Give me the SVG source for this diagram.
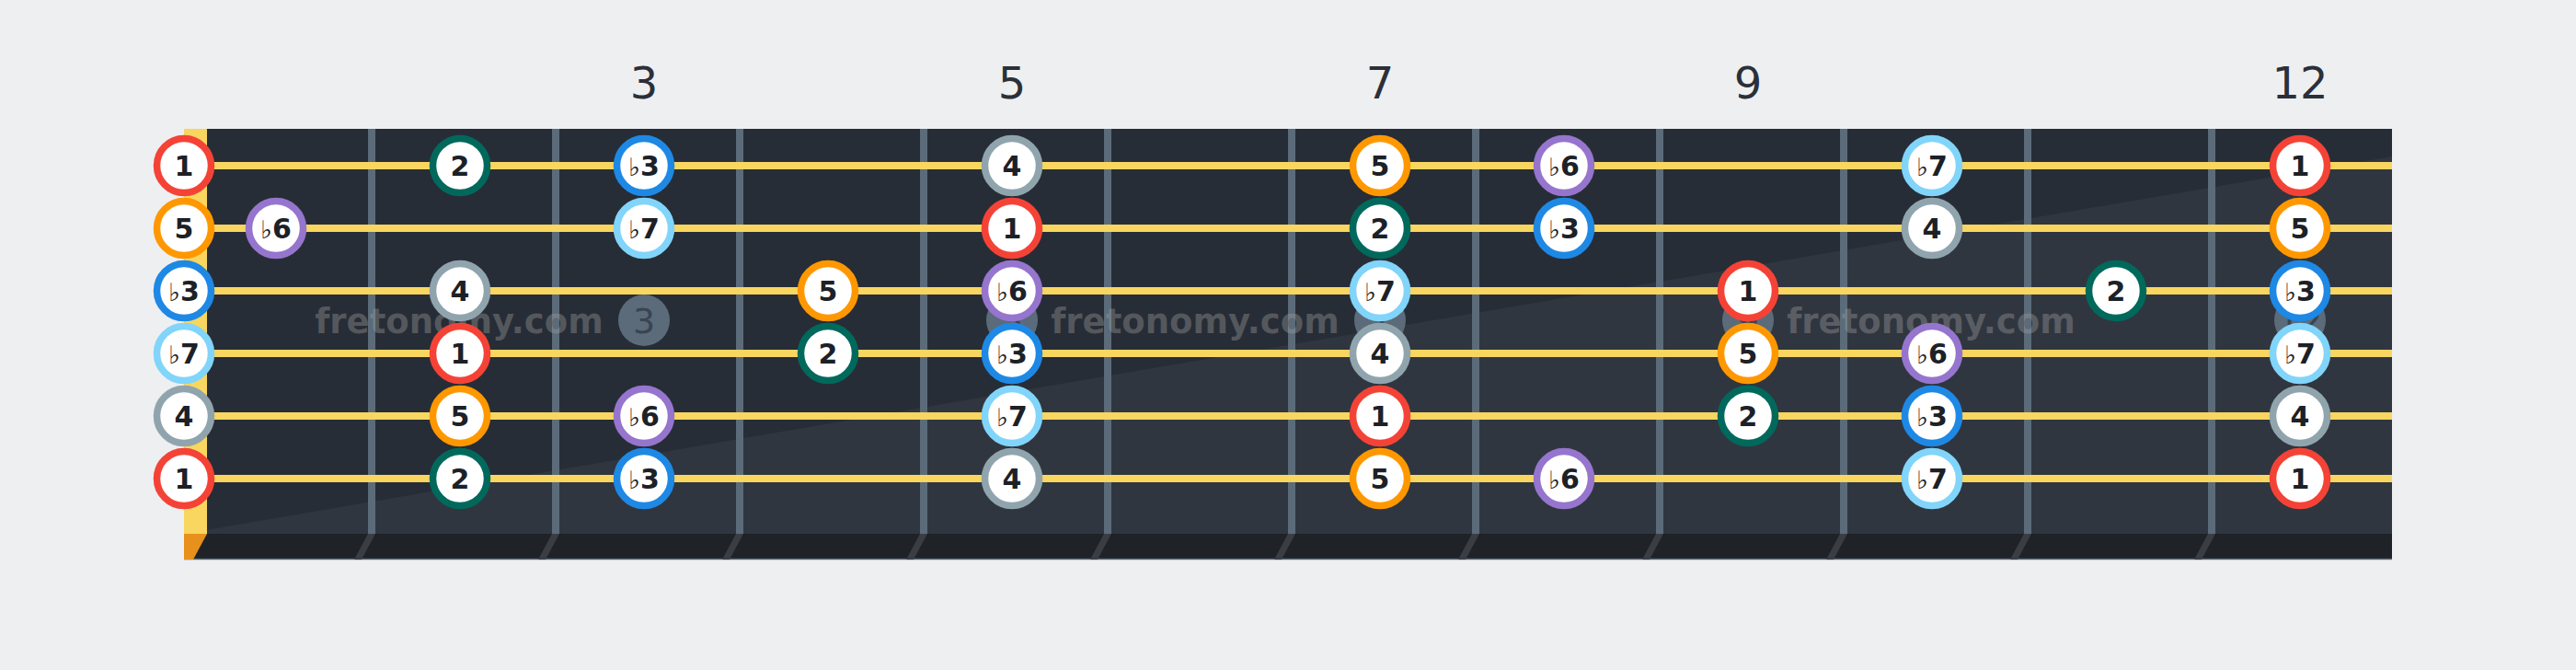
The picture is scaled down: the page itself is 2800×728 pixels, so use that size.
<svg xmlns="http://www.w3.org/2000/svg" width="2800" height="728" viewBox="0 0 2800 728">
<style>
.lbl{font-family:"DejaVu Sans","Liberation Sans",sans-serif;font-size:48px;fill:#2b3038;text-anchor:middle}
.mk{fill:#5b6b7a}
.mkt{font-family:"DejaVu Sans","Liberation Sans",sans-serif;font-size:38px;fill:#3a4450;text-anchor:middle}
.wm{font-family:"DejaVu Sans","Liberation Sans",sans-serif;font-size:37px;font-weight:bold;fill:#a0a0a0;fill-opacity:0.38;text-anchor:middle}
.fret{fill:#5b6b7a}
.fend{fill:#3a3e44}
.str{stroke:#f8d660;stroke-width:8}
.note circle{fill:#ffffff;stroke-width:7.5}
.note text{font-family:"DejaVu Sans","Liberation Sans",sans-serif;font-size:30px;font-weight:bold;fill:#1c2127;text-anchor:middle}
.note .fl{font-weight:normal;font-size:27px}
.i1 circle{stroke:#f44336}
.i2 circle{stroke:#00695c}
.i3 circle{stroke:#1e88e5}
.i4 circle{stroke:#90a4ae}
.i5 circle{stroke:#ff9800}
.i6 circle{stroke:#9575cd}
.i7 circle{stroke:#81d4fa}
</style>
<rect width="2800" height="728" fill="#eeeff1"/>
<g id="fret-labels">
<text class="lbl" x="700" y="107">3</text>
<text class="lbl" x="1100" y="107">5</text>
<text class="lbl" x="1500" y="107">7</text>
<text class="lbl" x="1900" y="107">9</text>
<text class="lbl" x="2500" y="107">12</text>
</g>
<g id="fretboard">
<rect x="200" y="140" width="2400" height="440" fill="#272d36"/>
<polygon points="200,580 2600,170 2600,580" fill="#30363f"/>
<rect x="200" y="580" width="2400" height="28" fill="#1f2328"/>
<line x1="200" y1="607.5" x2="2600" y2="607.5" stroke="#5b6b7a" stroke-width="1.5"/>
<polygon points="200,580 225,580 210,608 200,608" fill="#e8901c"/>
<rect x="200" y="140" width="25" height="440" fill="#f8d660"/>
</g>
<g id="frets">
<rect class="fret" x="400" y="140" width="8" height="440"/>
<rect class="fret" x="600" y="140" width="8" height="440"/>
<rect class="fret" x="800" y="140" width="8" height="440"/>
<rect class="fret" x="1000" y="140" width="8" height="440"/>
<rect class="fret" x="1200" y="140" width="8" height="440"/>
<rect class="fret" x="1400" y="140" width="8" height="440"/>
<rect class="fret" x="1600" y="140" width="8" height="440"/>
<rect class="fret" x="1800" y="140" width="8" height="440"/>
<rect class="fret" x="2000" y="140" width="8" height="440"/>
<rect class="fret" x="2200" y="140" width="8" height="440"/>
<rect class="fret" x="2400" y="140" width="8" height="440"/>
<polygon class="fend" points="400,580 408,580 393,608 385,608"/>
<polygon class="fend" points="600,580 608,580 593,608 585,608"/>
<polygon class="fend" points="800,580 808,580 793,608 785,608"/>
<polygon class="fend" points="1000,580 1008,580 993,608 985,608"/>
<polygon class="fend" points="1200,580 1208,580 1193,608 1185,608"/>
<polygon class="fend" points="1400,580 1408,580 1393,608 1385,608"/>
<polygon class="fend" points="1600,580 1608,580 1593,608 1585,608"/>
<polygon class="fend" points="1800,580 1808,580 1793,608 1785,608"/>
<polygon class="fend" points="2000,580 2008,580 1993,608 1985,608"/>
<polygon class="fend" points="2200,580 2208,580 2193,608 2185,608"/>
<polygon class="fend" points="2400,580 2408,580 2393,608 2385,608"/>
</g>
<g id="markers">
<circle class="mk" cx="700" cy="348" r="28"/><text class="mkt" x="700" y="362">3</text>
<circle class="mk" cx="1100" cy="348" r="28"/><text class="mkt" x="1100" y="362">5</text>
<circle class="mk" cx="1500" cy="348" r="28"/><text class="mkt" x="1500" y="362">7</text>
<circle class="mk" cx="1900" cy="348" r="28"/><text class="mkt" x="1900" y="362">9</text>
<circle class="mk" cx="2500" cy="348" r="28"/><text class="mkt" x="2500" y="362">12</text>
</g>
<g id="watermarks">
<text class="wm" x="499" y="362">fretonomy.com</text>
<text class="wm" x="1299" y="362">fretonomy.com</text>
<text class="wm" x="2099" y="362">fretonomy.com</text>
</g>
<g id="strings">
<line class="str" x1="200" y1="180" x2="2600" y2="180"/>
<line class="str" x1="200" y1="248" x2="2600" y2="248"/>
<line class="str" x1="200" y1="316" x2="2600" y2="316"/>
<line class="str" x1="200" y1="384" x2="2600" y2="384"/>
<line class="str" x1="200" y1="452" x2="2600" y2="452"/>
<line class="str" x1="200" y1="520" x2="2600" y2="520"/>
</g>
<g id="notes">
<g id="s1f0" class="note i1" transform="translate(200,180)"><circle r="29.5"/><text y="11">1</text></g>
<g id="s1f2" class="note i2" transform="translate(500,180)"><circle r="29.5"/><text y="11">2</text></g>
<g id="s1f3" class="note i3" transform="translate(700,180)"><circle r="29.5"/><text y="11"><tspan class="fl">♭</tspan>3</text></g>
<g id="s1f5" class="note i4" transform="translate(1100,180)"><circle r="29.5"/><text y="11">4</text></g>
<g id="s1f7" class="note i5" transform="translate(1500,180)"><circle r="29.5"/><text y="11">5</text></g>
<g id="s1f8" class="note i6" transform="translate(1700,180)"><circle r="29.5"/><text y="11"><tspan class="fl">♭</tspan>6</text></g>
<g id="s1f10" class="note i7" transform="translate(2100,180)"><circle r="29.5"/><text y="11"><tspan class="fl">♭</tspan>7</text></g>
<g id="s1f12" class="note i1" transform="translate(2500,180)"><circle r="29.5"/><text y="11">1</text></g>

<g id="s2f0" class="note i5" transform="translate(200,248)"><circle r="29.5"/><text y="11">5</text></g>
<g id="s2f1" class="note i6" transform="translate(300,248)"><circle r="29.5"/><text y="11"><tspan class="fl">♭</tspan>6</text></g>
<g id="s2f3" class="note i7" transform="translate(700,248)"><circle r="29.5"/><text y="11"><tspan class="fl">♭</tspan>7</text></g>
<g id="s2f5" class="note i1" transform="translate(1100,248)"><circle r="29.5"/><text y="11">1</text></g>
<g id="s2f7" class="note i2" transform="translate(1500,248)"><circle r="29.5"/><text y="11">2</text></g>
<g id="s2f8" class="note i3" transform="translate(1700,248)"><circle r="29.5"/><text y="11"><tspan class="fl">♭</tspan>3</text></g>
<g id="s2f10" class="note i4" transform="translate(2100,248)"><circle r="29.5"/><text y="11">4</text></g>
<g id="s2f12" class="note i5" transform="translate(2500,248)"><circle r="29.5"/><text y="11">5</text></g>

<g id="s3f0" class="note i3" transform="translate(200,316)"><circle r="29.5"/><text y="11"><tspan class="fl">♭</tspan>3</text></g>
<g id="s3f2" class="note i4" transform="translate(500,316)"><circle r="29.5"/><text y="11">4</text></g>
<g id="s3f4" class="note i5" transform="translate(900,316)"><circle r="29.5"/><text y="11">5</text></g>
<g id="s3f5" class="note i6" transform="translate(1100,316)"><circle r="29.5"/><text y="11"><tspan class="fl">♭</tspan>6</text></g>
<g id="s3f7" class="note i7" transform="translate(1500,316)"><circle r="29.5"/><text y="11"><tspan class="fl">♭</tspan>7</text></g>
<g id="s3f9" class="note i1" transform="translate(1900,316)"><circle r="29.5"/><text y="11">1</text></g>
<g id="s3f11" class="note i2" transform="translate(2300,316)"><circle r="29.5"/><text y="11">2</text></g>
<g id="s3f12" class="note i3" transform="translate(2500,316)"><circle r="29.5"/><text y="11"><tspan class="fl">♭</tspan>3</text></g>

<g id="s4f0" class="note i7" transform="translate(200,384)"><circle r="29.5"/><text y="11"><tspan class="fl">♭</tspan>7</text></g>
<g id="s4f2" class="note i1" transform="translate(500,384)"><circle r="29.5"/><text y="11">1</text></g>
<g id="s4f4" class="note i2" transform="translate(900,384)"><circle r="29.5"/><text y="11">2</text></g>
<g id="s4f5" class="note i3" transform="translate(1100,384)"><circle r="29.5"/><text y="11"><tspan class="fl">♭</tspan>3</text></g>
<g id="s4f7" class="note i4" transform="translate(1500,384)"><circle r="29.5"/><text y="11">4</text></g>
<g id="s4f9" class="note i5" transform="translate(1900,384)"><circle r="29.5"/><text y="11">5</text></g>
<g id="s4f10" class="note i6" transform="translate(2100,384)"><circle r="29.5"/><text y="11"><tspan class="fl">♭</tspan>6</text></g>
<g id="s4f12" class="note i7" transform="translate(2500,384)"><circle r="29.5"/><text y="11"><tspan class="fl">♭</tspan>7</text></g>

<g id="s5f0" class="note i4" transform="translate(200,452)"><circle r="29.5"/><text y="11">4</text></g>
<g id="s5f2" class="note i5" transform="translate(500,452)"><circle r="29.5"/><text y="11">5</text></g>
<g id="s5f3" class="note i6" transform="translate(700,452)"><circle r="29.5"/><text y="11"><tspan class="fl">♭</tspan>6</text></g>
<g id="s5f5" class="note i7" transform="translate(1100,452)"><circle r="29.5"/><text y="11"><tspan class="fl">♭</tspan>7</text></g>
<g id="s5f7" class="note i1" transform="translate(1500,452)"><circle r="29.5"/><text y="11">1</text></g>
<g id="s5f9" class="note i2" transform="translate(1900,452)"><circle r="29.5"/><text y="11">2</text></g>
<g id="s5f10" class="note i3" transform="translate(2100,452)"><circle r="29.5"/><text y="11"><tspan class="fl">♭</tspan>3</text></g>
<g id="s5f12" class="note i4" transform="translate(2500,452)"><circle r="29.5"/><text y="11">4</text></g>

<g id="s6f0" class="note i1" transform="translate(200,520)"><circle r="29.5"/><text y="11">1</text></g>
<g id="s6f2" class="note i2" transform="translate(500,520)"><circle r="29.5"/><text y="11">2</text></g>
<g id="s6f3" class="note i3" transform="translate(700,520)"><circle r="29.5"/><text y="11"><tspan class="fl">♭</tspan>3</text></g>
<g id="s6f5" class="note i4" transform="translate(1100,520)"><circle r="29.5"/><text y="11">4</text></g>
<g id="s6f7" class="note i5" transform="translate(1500,520)"><circle r="29.5"/><text y="11">5</text></g>
<g id="s6f8" class="note i6" transform="translate(1700,520)"><circle r="29.5"/><text y="11"><tspan class="fl">♭</tspan>6</text></g>
<g id="s6f10" class="note i7" transform="translate(2100,520)"><circle r="29.5"/><text y="11"><tspan class="fl">♭</tspan>7</text></g>
<g id="s6f12" class="note i1" transform="translate(2500,520)"><circle r="29.5"/><text y="11">1</text></g>
</g>
</svg>
